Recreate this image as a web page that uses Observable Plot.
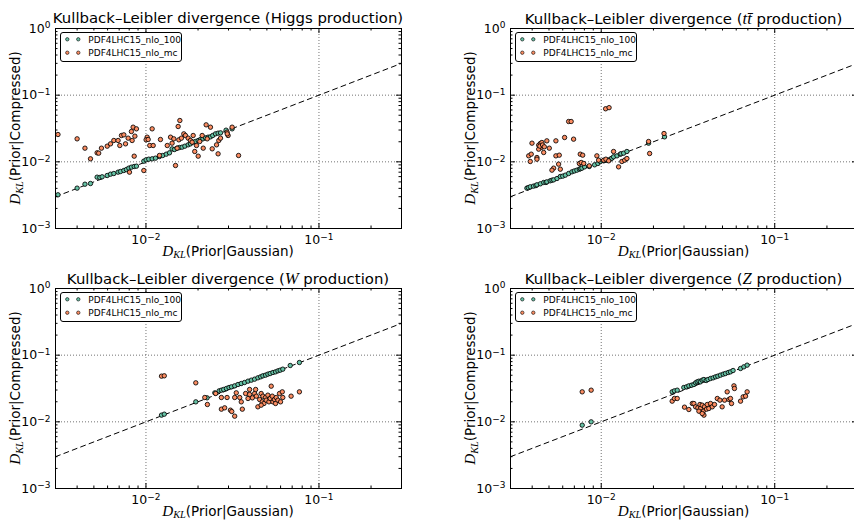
<!DOCTYPE html>
<html>
<head>
<meta charset="utf-8">
<script src="https://cdn.jsdelivr.net/npm/d3@7"></script>
<script src="https://cdn.jsdelivr.net/npm/@observablehq/plot@0.6"></script>
<style>
html,body{margin:0;padding:0;background:#fff;overflow:hidden;}
#fig{position:relative;width:854px;height:520px;overflow:hidden;font-family:"DejaVu Sans",sans-serif;color:#000;background:#fff;}
.panel{position:absolute;}
.title{position:absolute;font-size:14.9px;line-height:1;white-space:nowrap;transform:translateX(-50%);}
.xlab{position:absolute;font-size:13.5px;line-height:1;white-space:nowrap;transform:translateX(-50%);}
.ylab{position:absolute;font-size:13.5px;line-height:1;white-space:nowrap;transform:translate(-50%,-50%) rotate(-90deg);}
.m{font-family:"Liberation Serif",serif;font-style:italic;font-size:1.12em;}
.m sub{font-size:0.68em;vertical-align:-0.22em;line-height:0;}
.legend{position:absolute;}
</style>
</head>
<body>
<div id="fig"></div>
<script>
// ---------------- data ----------------
const seriesNames = ["PDF4LHC15_nlo_100", "PDF4LHC15_nlo_mc"];
const seriesColors = ["#66c2a5", "#fc8d62"];

const higgs100 = [[0.0031,0.0032],[0.0040,0.00403],[0.00444,0.00462],[0.00478,0.00473],[0.00522,0.00589],[0.00541,0.00582],[0.00558,0.00596],[0.00597,0.00624],[0.00624,0.00653],[0.00652,0.00668],[0.0069,0.0070],[0.00713,0.00716],[0.00745,0.00741],[0.00771,0.00767],[0.00796,0.00804],[0.00824,0.00832],[0.00855,0.00851],[0.00881,0.00861],[0.00972,0.01023],[0.01002,0.01072],[0.01038,0.01096],[0.01086,0.0111],[0.01135,0.01135],[0.01197,0.0120],[0.0125,0.01245],[0.0131,0.01303],[0.01368,0.01365],[0.01416,0.01567],[0.01462,0.01531],[0.01514,0.01603],[0.01563,0.0164],[0.01618,0.0166],[0.01679,0.01718],[0.01754,0.01799],[0.01808,0.01862],[0.01866,0.01972],[0.01932,0.02018],[0.02004,0.0209],[0.02065,0.02163],[0.02133,0.02213],[0.02208,0.02291],[0.02286,0.02344],[0.0236,0.02371],[0.02432,0.02483],[0.02523,0.0263],[0.02612,0.02692],[0.02698,0.02723],[0.02904,0.02985],[0.03148,0.03126]];
const higgsMc = [[0.0031,0.0257],[0.0040,0.02213],[0.00444,0.01603],[0.00478,0.0111],[0.00522,0.01365],[0.00533,0.01349],[0.00553,0.01603],[0.00597,0.01718],[0.00624,0.01862],[0.00652,0.0209],[0.0069,0.0209],[0.00706,0.01758],[0.00722,0.02483],[0.00745,0.0254],[0.00762,0.01862],[0.00789,0.02265],[0.00824,0.0285],[0.00832,0.0209],[0.00843,0.0331],[0.00863,0.02427],[0.00881,0.03126],[0.00855,0.01216],[0.00803,0.0070],[0.00972,0.00741],[0.01016,0.02344],[0.01002,0.02138],[0.0103,0.02163],[0.01052,0.01758],[0.01101,0.01758],[0.01086,0.03126],[0.01197,0.01245],[0.01213,0.02163],[0.01328,0.01758],[0.01387,0.02344],[0.01416,0.01905],[0.01449,0.02213],[0.01482,0.00881],[0.01514,0.01603],[0.01535,0.03388],[0.0157,0.04169],[0.01549,0.02138],[0.01603,0.02265],[0.01655,0.0263],[0.01692,0.02483],[0.01754,0.02265],[0.01808,0.0209],[0.01849,0.01972],[0.01875,0.02483],[0.01914,0.01429],[0.01959,0.01758],[0.02004,0.01216],[0.02046,0.02018],[0.02113,0.02483],[0.02143,0.01603],[0.02228,0.0359],[0.0226,0.02213],[0.0236,0.0331],[0.02415,0.01567],[0.02559,0.01799],[0.02612,0.01318],[0.02636,0.0209],[0.02698,0.02265],[0.02944,0.02786],[0.02985,0.02483],[0.03148,0.0331],[0.0343,0.01245],[0.0295,0.0263]];

const ttbar100 = [[0.00373,0.00403],[0.0038,0.0041],[0.0039,0.00422],[0.00407,0.00432],[0.0042,0.0044],[0.00426,0.00452],[0.00446,0.00468],[0.00466,0.0049],[0.0048,0.0049],[0.00486,0.00501],[0.00508,0.00519],[0.0052,0.0053],[0.00532,0.00537],[0.00556,0.00562],[0.00581,0.00603],[0.0060,0.0061],[0.00621,0.00631],[0.00649,0.00668],[0.00678,0.00708],[0.0070,0.0073],[0.00724,0.0075],[0.00748,0.00776],[0.0076,0.0079],[0.00774,0.00804],[0.00802,0.00841],[0.00853,0.00851],[0.00916,0.00902],[0.00957,0.00944],[0.00988,0.01012],[0.01033,0.01035],[0.0105,0.0105],[0.01079,0.01059],[0.01127,0.01096],[0.0115,0.0113],[0.01178,0.01189],[0.01233,0.0123],[0.01288,0.01303],[0.0130,0.0132],[0.01346,0.01349],[0.01406,0.01429],[0.01875,0.01905],[0.02317,0.02371]];
const ttbarMc = [[0.00649,0.04027],[0.00671,0.04027],[0.00399,0.01905],[0.00436,0.01778],[0.00446,0.01884],[0.00455,0.0195],[0.00451,0.0164],[0.00436,0.01549],[0.00443,0.0172],[0.00459,0.0179],[0.0047,0.0168],[0.00466,0.0138],[0.00486,0.02065],[0.00502,0.01603],[0.00548,0.02065],[0.00615,0.02317],[0.00693,0.02188],[0.00382,0.0123],[0.00395,0.01303],[0.0039,0.01012],[0.00426,0.01161],[0.00426,0.01096],[0.00548,0.0123],[0.00573,0.01259],[0.00568,0.00923],[0.00532,0.00804],[0.0052,0.0075],[0.00581,0.00776],[0.00757,0.01303],[0.00782,0.01259],[0.00748,0.00944],[0.00767,0.00977],[0.00793,0.00944],[0.00853,0.00871],[0.00944,0.0123],[0.00966,0.01059],[0.01033,0.01059],[0.01064,0.01096],[0.01104,0.01035],[0.01178,0.01429],[0.01259,0.00841],[0.01315,0.01012],[0.01365,0.01059],[0.01406,0.01122],[0.01875,0.02018],[0.01901,0.01334],[0.02301,0.02661],[0.0106,0.0625],[0.0111,0.065]];

const w100 = [[0.0123,0.0126],[0.01276,0.01303],[0.01941,0.01995],[0.02255,0.02291],[0.025,0.02723],[0.02649,0.02917],[0.02729,0.02985],[0.02812,0.03055],[0.02917,0.03162],[0.0302,0.03273],[0.03119,0.0335],[0.03258,0.03467],[0.03404,0.03631],[0.03556,0.03758],[0.03715,0.0389],[0.0389,0.04074],[0.04064,0.04217],[0.04246,0.04365],[0.04436,0.04571],[0.04603,0.04732],[0.04742,0.049],[0.04909,0.05012],[0.05065,0.05188],[0.05224,0.05309],[0.0542,0.05495],[0.05611,0.05623],[0.05794,0.05821],[0.0597,0.05957],[0.0618,0.06166],[0.06823,0.06998],[0.07709,0.07762]];
const wMc = [[0.0123,0.04842],[0.01276,0.049],[0.01941,0.03846],[0.02265,0.0182],[0.02188,0.02317],[0.02529,0.02661],[0.02729,0.02317],[0.02729,0.01549],[0.02851,0.01622],[0.02944,0.02317],[0.03078,0.01496],[0.03133,0.01429],[0.03258,0.01216],[0.03327,0.02723],[0.03258,0.02317],[0.03483,0.02317],[0.03556,0.01995],[0.03606,0.01549],[0.03767,0.02661],[0.03972,0.03055],[0.03972,0.0257],[0.04121,0.02291],[0.04246,0.02661],[0.04305,0.03055],[0.04345,0.02427],[0.04436,0.01679],[0.04539,0.02163],[0.04634,0.02661],[0.04699,0.01995],[0.04742,0.02427],[0.04808,0.01884],[0.04909,0.02317],[0.04955,0.02113],[0.05065,0.02512],[0.0514,0.01995],[0.05224,0.02239],[0.05297,0.03428],[0.0537,0.02427],[0.0542,0.01995],[0.05534,0.02163],[0.05611,0.01884],[0.05662,0.02317],[0.05794,0.02113],[0.05916,0.02661],[0.05998,0.01995],[0.06138,0.02818],[0.0618,0.02317],[0.06902,0.02427],[0.07709,0.02818],[0.0389,0.02239],[0.04634,0.01778]];

const z100 = [[0.00777,0.00891],[0.00875,0.01],[0.02564,0.02818],[0.02642,0.02917],[0.02742,0.02985],[0.02992,0.03273],[0.03102,0.0335],[0.03199,0.03467],[0.03319,0.03548],[0.0342,0.03631],[0.035,0.03846],[0.03573,0.03981],[0.03656,0.04074],[0.03733,0.03981],[0.0382,0.04217],[0.03908,0.04315],[0.04027,0.04169],[0.04121,0.04315],[0.04266,0.04467],[0.04416,0.04571],[0.0456,0.04732],[0.04699,0.04842],[0.04864,0.05012],[0.05047,0.05188],[0.052,0.05309],[0.05395,0.05495],[0.05559,0.05623],[0.05754,0.05888],[0.06353,0.0631],[0.06637,0.06683],[0.06934,0.07079]];
const zMc = [[0.00777,0.02818],[0.00875,0.02985],[0.02564,0.02042],[0.02642,0.02239],[0.02742,0.02239],[0.0302,0.0166],[0.03199,0.01531],[0.0335,0.01884],[0.0342,0.01884],[0.035,0.01679],[0.03606,0.01622],[0.03707,0.0182],[0.03733,0.01585],[0.0382,0.01778],[0.03873,0.01445],[0.03908,0.01259],[0.03936,0.01679],[0.04046,0.01549],[0.04083,0.0182],[0.04169,0.01585],[0.04266,0.01884],[0.04365,0.01679],[0.04498,0.0182],[0.04667,0.02239],[0.04831,0.02113],[0.04977,0.01679],[0.0514,0.02113],[0.05321,0.02818],[0.05445,0.02163],[0.05559,0.02239],[0.05636,0.01884],[0.05821,0.03467],[0.05861,0.03162],[0.06353,0.02042],[0.06577,0.02371],[0.06792,0.02427],[0.06934,0.02818],[0.03656,0.01445],[0.0382,0.01334]];

// axis domains, ticks, reference line
const xDomain = [0.003, 0.3];
const yDomain = [0.001, 1];
const xTickValues = [0.01, 0.1];
const yTickValues = [0.001, 0.01, 0.1, 1];
const xGridValues = [0.01, 0.1];
const yGridValues = [0.01, 0.1];
const diagonal = [0.003, 0.3];
const xLabelText = "(Prior|Gaussian)";
const yLabelText = "(Prior|Compressed)";

function minorTicks(lo, hi) {
  const out = [];
  for (let e = -4; e <= 1; e++) for (let k = 2; k <= 9; k++) {
    const v = k * Math.pow(10, e);
    if (v > lo * 1.0001 && v < hi * 0.9999) out.push(v);
  }
  return out;
}
const xMinor = minorTicks(xDomain[0], xDomain[1]);
const yMinor = minorTicks(yDomain[0], yDomain[1]);

// ---------------- layout ----------------
const panels = [
  {title: 'Kullback–Leibler divergence (Higgs production)', a: higgs100, b: higgsMc, left: 0, top: 0, width: 427, mL: 55, mR: 26},
  {title: 'Kullback–Leibler divergence (<span class="m">tt̄</span> production)', a: ttbar100, b: ttbarMc, left: 427, top: 0, width: 430, mL: 83, mR: 0},
  {title: 'Kullback–Leibler divergence (<span class="m">W</span> production)', a: w100, b: wMc, left: 0, top: 260, width: 427, mL: 55, mR: 26},
  {title: 'Kullback–Leibler divergence (<span class="m">Z</span> production)', a: z100, b: zMc, left: 427, top: 260, width: 430, mL: 83, mR: 0}
];
const MT = 28, MB = 32, H = 260, FH = H - MT - MB;
const sci = d => `10^${Math.round(Math.log10(d))}`;

const fig = document.getElementById("fig");

for (const p of panels) {
  const fw = p.width - p.mL - p.mR;
  const dotOpts = (fill) => ({x: d => d[0], y: d => d[1], r: 2.2, fill, stroke: "#000", strokeWidth: 0.85});
  const svg = Plot.plot({
    width: p.width, height: H,
    marginLeft: p.mL, marginRight: p.mR, marginTop: MT, marginBottom: MB,
    x: {type: "log", domain: xDomain},
    y: {type: "log", domain: yDomain},
    style: {fontFamily: '"DejaVu Sans", sans-serif', fontSize: "12px", background: "transparent", color: "#000"},
    marks: [
      Plot.ruleX(xGridValues, {stroke: "#000", strokeOpacity: 0.55, strokeWidth: 1, strokeDasharray: "1,2"}),
      Plot.ruleY(yGridValues, {stroke: "#000", strokeOpacity: 0.55, strokeWidth: 1, strokeDasharray: "1,2"}),
      Plot.line(diagonal, {x: d => d, y: d => d, stroke: "#000", strokeWidth: 1, strokeDasharray: "5,4"}),
      Plot.dot(p.a, dotOpts(seriesColors[0])),
      Plot.dot(p.b, dotOpts(seriesColors[1])),
      // inward ticks on all four sides
      Plot.ruleX(xTickValues, {insetTop: FH - 5, stroke: "#000"}),
      Plot.ruleX(xTickValues, {insetBottom: FH - 5, stroke: "#000"}),
      Plot.ruleX(xMinor, {insetTop: FH - 2.5, stroke: "#000"}),
      Plot.ruleX(xMinor, {insetBottom: FH - 2.5, stroke: "#000"}),
      Plot.ruleY(yTickValues, {insetRight: fw - 5, stroke: "#000"}),
      Plot.ruleY(yTickValues, {insetLeft: fw - 5, stroke: "#000"}),
      Plot.ruleY(yMinor, {insetRight: fw - 2.5, stroke: "#000"}),
      Plot.ruleY(yMinor, {insetLeft: fw - 2.5, stroke: "#000"}),
      Plot.frame({stroke: "#000", strokeWidth: 1}),
      Plot.axisX(xTickValues, {anchor: "bottom", tickSize: 0, tickPadding: 7, tickFormat: sci, label: null, fontSize: 12.5}),
      Plot.axisY(yTickValues, {anchor: "left", tickSize: 0, tickPadding: 5, tickFormat: sci, label: null, fontSize: 12.5})
    ]
  });
  // turn "10^-2" tick labels into 10 with a superscript exponent
  d3.select(svg).selectAll('[aria-label$="tick label"] text').each(function () {
    const t = d3.select(this);
    const m = /^10\^(-?\d+)$/.exec(t.text());
    if (!m) return;
    t.text(null);
    t.append("tspan").text("10");
    t.append("tspan").attr("dy", "-0.48em").attr("font-size", "0.72em").text(m[1].replace("-", "\u2212"));
  });
  const holder = document.createElement("div");
  holder.className = "panel";
  holder.style.left = p.left + "px";
  holder.style.top = p.top + "px";
  holder.style.width = p.width + "px";
  holder.style.height = H + "px";
  holder.appendChild(svg);
  fig.appendChild(holder);

  const frameLeft = p.left + p.mL, frameTop = p.top + MT;
  const cx = frameLeft + fw / 2;

  const title = document.createElement("div");
  title.className = "title";
  title.innerHTML = p.title;
  title.style.left = cx + "px";
  title.style.top = (p.top + 11.3) + "px";
  fig.appendChild(title);

  const xl = document.createElement("div");
  xl.className = "xlab";
  xl.innerHTML = '<span class="m">D<sub>KL</sub></span>' + xLabelText;
  xl.style.left = cx + "px";
  xl.style.top = (p.top + 243.5) + "px";
  fig.appendChild(xl);

  const yl = document.createElement("div");
  yl.className = "ylab";
  yl.innerHTML = '<span class="m">D<sub>KL</sub></span>' + yLabelText;
  yl.style.left = (frameLeft - 39) + "px";
  yl.style.top = (frameTop + FH / 2) + "px";
  fig.appendChild(yl);

  // legend
  const lg = d3.create("svg").attr("class", "legend").attr("width", 123).attr("height", 31)
    .style("left", (frameLeft + 5) + "px").style("top", (frameTop + 4) + "px")
    .style("font-family", '"DejaVu Sans", sans-serif');
  lg.append("rect").attr("x", 0.5).attr("y", 0.5).attr("width", 121).attr("height", 29).attr("rx", 2.5)
    .attr("fill", "#fff").attr("stroke", "#000").attr("stroke-width", 1);
  seriesNames.forEach((name, i) => {
    const cy = 7.3 + i * 13.4;
    [7.3, 18.3].forEach(mx => lg.append("circle").attr("cx", mx).attr("cy", cy).attr("r", 1.7)
      .attr("fill", seriesColors[i]).attr("stroke", "#000").attr("stroke-width", 0.6));
    lg.append("text").attr("x", 28.3).attr("y", cy + 3.2).attr("font-size", 9).attr("fill", "#000").text(name);
  });
  fig.appendChild(lg.node());
}
</script>
</body>
</html>
